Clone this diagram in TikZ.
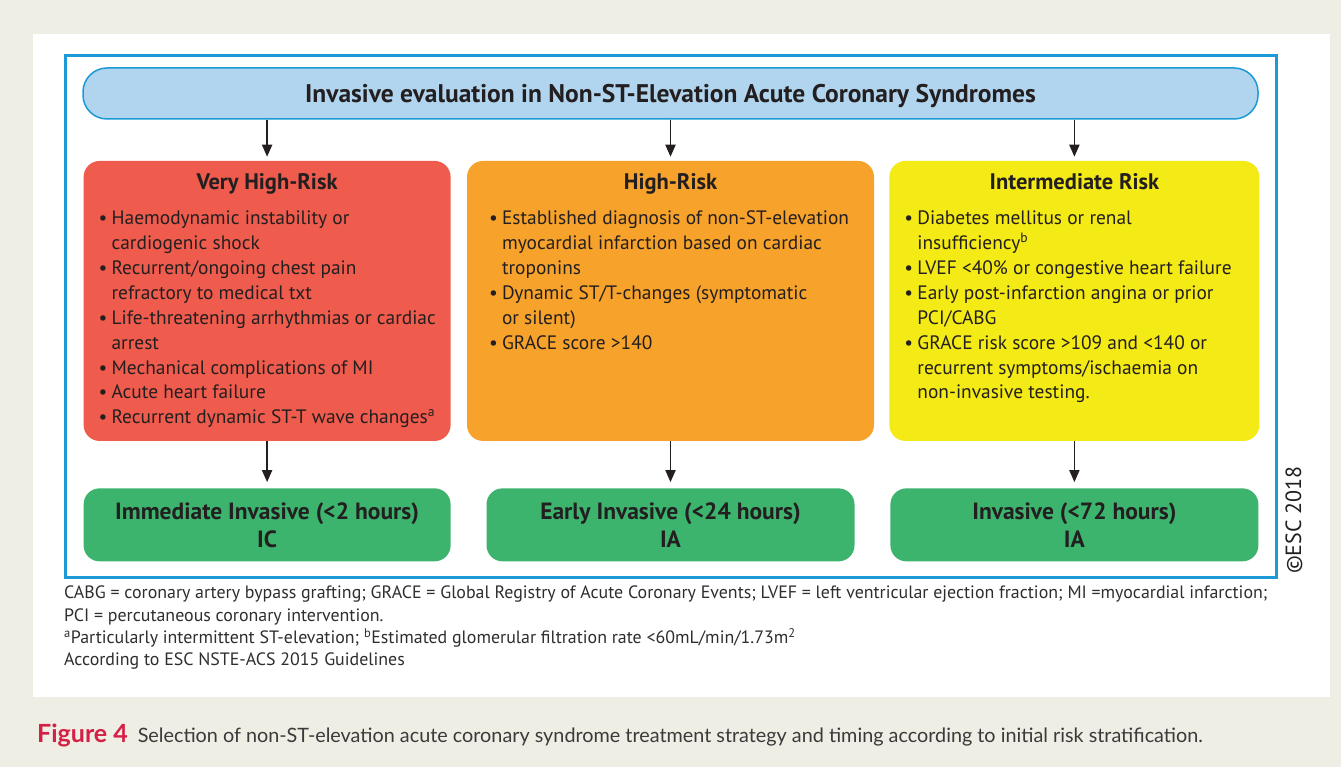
\documentclass[tikz,border=0pt]{standalone}
\usepackage{fontspec}
\setmainfont{PT Sans}
\newfontfamily\capfont{Lato}
\usetikzlibrary{positioning, arrows.meta}

\definecolor{bgbeige}{HTML}{EFEEE4}
\definecolor{escblue}{HTML}{1B9AD6}
\definecolor{headblue}{HTML}{B1D5EE}
\definecolor{escred}{HTML}{EF5B4C}
\definecolor{escorange}{HTML}{F6A22B}
\definecolor{escyellow}{HTML}{F4EA15}
\definecolor{escgreen}{HTML}{3CB46E}
\definecolor{textdark}{HTML}{231F20}
\definecolor{notegray}{HTML}{2E2E2E}
\definecolor{figred}{HTML}{D51F45}
\definecolor{capgray}{HTML}{3A3A3A}

\newcommand{\bul}{\makebox[13pt][l]{\textbullet}}
\newcommand{\ind}{\hspace*{13pt}}

\begin{document}
\begin{tikzpicture}[
    x=1pt, y=-1pt,
    header/.style={rectangle, rounded corners=24pt, draw=escblue, line width=1.5pt, fill=headblue,
        minimum width=1175pt, minimum height=51pt, text depth=1pt, text=textdark, font=\bfseries\fontsize{25.5}{25.5}\selectfont},
    risk/.style={rectangle, rounded corners=16pt, minimum width=367pt, minimum height=280pt, inner sep=0pt},
    risktitle/.style={inner sep=0pt, text=textdark, font=\bfseries\fontsize{22.5}{25}\selectfont},
    riskpoints/.style={inner sep=0pt, align=left, text=textdark, font=\fontsize{19.4}{24.9}\selectfont},
    timing/.style={rectangle, rounded corners=16pt, fill=escgreen, minimum width=368pt, minimum height=73pt,
        align=center, text=textdark, font=\bfseries\fontsize{23.5}{28}\selectfont},
    arr/.style={-{Triangle[length=12pt, width=10pt]}, line width=1.8pt, textdark}
]
% page and frame
\fill[bgbeige] (0,0) rectangle (1341,767);
\fill[white] (33,34) rectangle (1330,697);
\draw[escblue, line width=3pt] (65,56) rectangle (1276,577);
\useasboundingbox (0,0) rectangle (1341,767);

\node[header] (eval) at (670.5,93.5) {Invasive evaluation in Non-ST-Elevation Acute Coronary Syndromes};

% risk groups
\node[risk, fill=escorange, minimum width=407pt, below=41pt of eval] (high) {};
\node[risk, fill=escred, left=16pt of high] (vhigh) {};
\node[risk, fill=escyellow, minimum width=370pt, right=15pt of high] (inter) {};

\node[risktitle, below=13pt of vhigh.north] (vhighT) {Very High-Risk};
\node[risktitle, below=13pt of high.north] (highT) {High-Risk};
\node[risktitle, below=13pt of inter.north] (interT) {Intermediate Risk};

\node[riskpoints, below right=50pt and 15pt of vhigh.north west] (vhighP) {%
\bul Haemodynamic instability or\\
\ind cardiogenic shock\\
\bul Recurrent/ongoing chest pain\\
\ind refractory to medical txt\\
\bul Life-threatening arrhythmias or cardiac\\
\ind arrest\\
\bul Mechanical complications of MI\\
\bul Acute heart failure\\
\bul Recurrent dynamic ST-T wave changes\textsuperscript{a}};

\node[riskpoints, below right=50pt and 22pt of high.north west] (highP) {%
\bul Established diagnosis of non-ST-elevation\\
\ind myocardial infarction based on cardiac\\
\ind troponins\\
\bul Dynamic ST/T-changes (symptomatic\\
\ind or silent)\\
\bul GRACE score >140};

\node[riskpoints, below right=50pt and 15pt of inter.north west] (interP) {%
\bul Diabetes mellitus or renal\\
\ind insufficiency\textsuperscript{b}\\
\bul LVEF <40\% or congestive heart failure\\
\bul Early post-infarction angina or prior\\
\ind PCI/CABG\\
\bul GRACE risk score >109 and <140 or\\
\ind recurrent symptoms/ischaemia on\\
\ind non-invasive testing.};

% timing
\node[timing, minimum width=367pt, below=47pt of vhigh] (vhighG) {Immediate Invasive (<2 hours)\\IC};
\node[timing, below=47pt of high] (highG) {Early Invasive (<24 hours)\\IA};
\node[timing, below=47pt of inter] (interG) {Invasive (<72 hours)\\IA};

\draw[arr, shorten >=4pt] (vhigh.north |- eval.south) -- (vhigh.north);
\draw[arr, shorten >=4pt] (high.north |- eval.south) -- (high.north);
\draw[arr, shorten >=4pt] (inter.north |- eval.south) -- (inter.north);
\draw[arr, shorten >=6pt] (vhigh) -- (vhighG);
\draw[arr, shorten >=6pt] (high) -- (highG);
\draw[arr, shorten >=6pt] (inter) -- (interG);

\node[rotate=90, text=textdark, font=\fontsize{22}{22}\selectfont] (copy) at (1294,520) {\textcopyright ESC 2018};

% notes and caption
\node[anchor=north west, inner sep=0pt, align=left, text=notegray, font=\fontsize{17.9}{22.3}\selectfont] (notes) at (64,586) {%
CABG = coronary artery bypass grafting; GRACE = Global Registry of Acute Coronary Events; LVEF = left ventricular ejection fraction; MI =myocardial infarction;\\
PCI = percutaneous coronary intervention.\\
\textsuperscript{a}Particularly intermittent ST-elevation; \textsuperscript{b}Estimated glomerular filtration rate <60mL/min/1.73m\textsuperscript{2}\\
According to ESC NSTE-ACS 2015 Guidelines};

\node[anchor=west, inner sep=0pt, text=capgray, font=\capfont\fontsize{19.8}{22}\selectfont] (caption) at (37,735) {%
{\color{figred}\bfseries\fontsize{25}{25}\selectfont Figure 4}\enspace Selection of non-ST-elevation acute coronary syndrome treatment strategy and timing according to initial risk stratification.};
\end{tikzpicture}
\end{document}
